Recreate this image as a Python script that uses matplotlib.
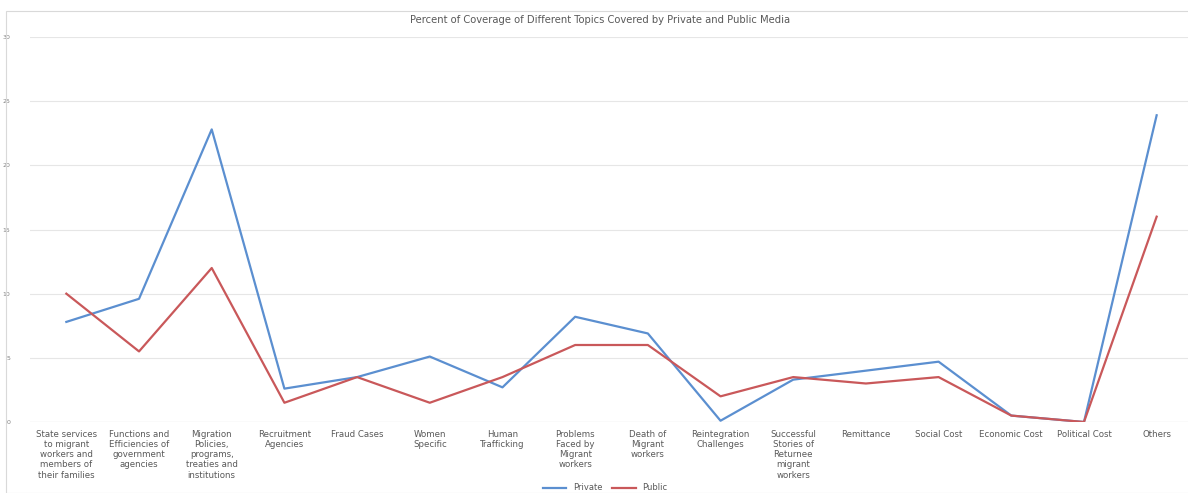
import matplotlib
matplotlib.use("Agg")
import matplotlib.pyplot as plt
from matplotlib.patches import Rectangle

categories = [
    "State services\nto migrant\nworkers and\nmembers of\ntheir families",
    "Functions and\nEfficiencies of\ngovernment\nagencies",
    "Migration\nPolicies,\nprograms,\ntreaties and\ninstitutions",
    "Recruitment\nAgencies",
    "Fraud Cases",
    "Women\nSpecific",
    "Human\nTrafficking",
    "Problems\nFaced by\nMigrant\nworkers",
    "Death of\nMigrant\nworkers",
    "Reintegration\nChallenges",
    "Successful\nStories of\nReturnee\nmigrant\nworkers",
    "Remittance",
    "Social Cost",
    "Economic Cost",
    "Political Cost",
    "Others",
]
private = [7.8, 9.6, 22.8, 2.6, 3.5, 5.1, 2.7, 8.2, 6.9, 0.1, 3.3, 4.0, 4.7, 0.5, 0.0, 23.9]
public = [10.0, 5.5, 12.0, 1.5, 3.5, 1.5, 3.5, 6.0, 6.0, 2.0, 3.5, 3.0, 3.5, 0.5, 0.0, 16.0]
yticks = [0, 5, 10, 15, 20, 25, 30]

W, H = 1188, 493
fig = plt.figure(figsize=(W / 100, H / 100), dpi=100)
fig.patches.append(Rectangle((6 / W, 0), 1.0, (H - 11) / H, transform=fig.transFigure,
                             fill=False, edgecolor="#d9d9d9", linewidth=0.8))

ax = fig.add_axes([30 / W, 71 / H, (1193 - 30) / W, (422 - 37) / H])
x = list(range(len(categories)))
ax.plot(x, private, color="#5b8fd0", linewidth=1.6, label="Private")
ax.plot(x, public, color="#c9585a", linewidth=1.6, label="Public")

ax.set_xlim(-0.5, len(categories) - 0.5)
ax.set_ylim(0, 30)
ax.set_yticks(yticks)
ax.set_yticklabels([str(v) for v in yticks], fontsize=4.5, color="#7f7f7f")
ax.set_xticks(x)
ax.set_xticklabels(categories, fontsize=6.2, color="#595959", linespacing=1.15, va="top")
ax.tick_params(axis="both", length=0)
ax.tick_params(axis="x", pad=6)
ax.tick_params(axis="y", pad=14)
ax.grid(axis="y", color="#e6e6e6", linewidth=0.8)
ax.set_axisbelow(True)
for s in ax.spines.values():
    s.set_visible(False)
ax.axhline(0, color="#d9d9d9", linewidth=0.8, zorder=0)

fig.text(600 / W, 1 - 20 / H, "Percent of Coverage of Different Topics Covered by Private and Public Media",
         ha="center", va="center", fontsize=7.2, color="#595959")

fig.legend(loc="center", bbox_to_anchor=(605 / W, 1 - 488 / H), ncol=2, frameon=False,
           fontsize=6, handlelength=2.8, columnspacing=1.2, labelcolor="#595959")

fig.savefig("out.png", dpi=100, facecolor="white")
